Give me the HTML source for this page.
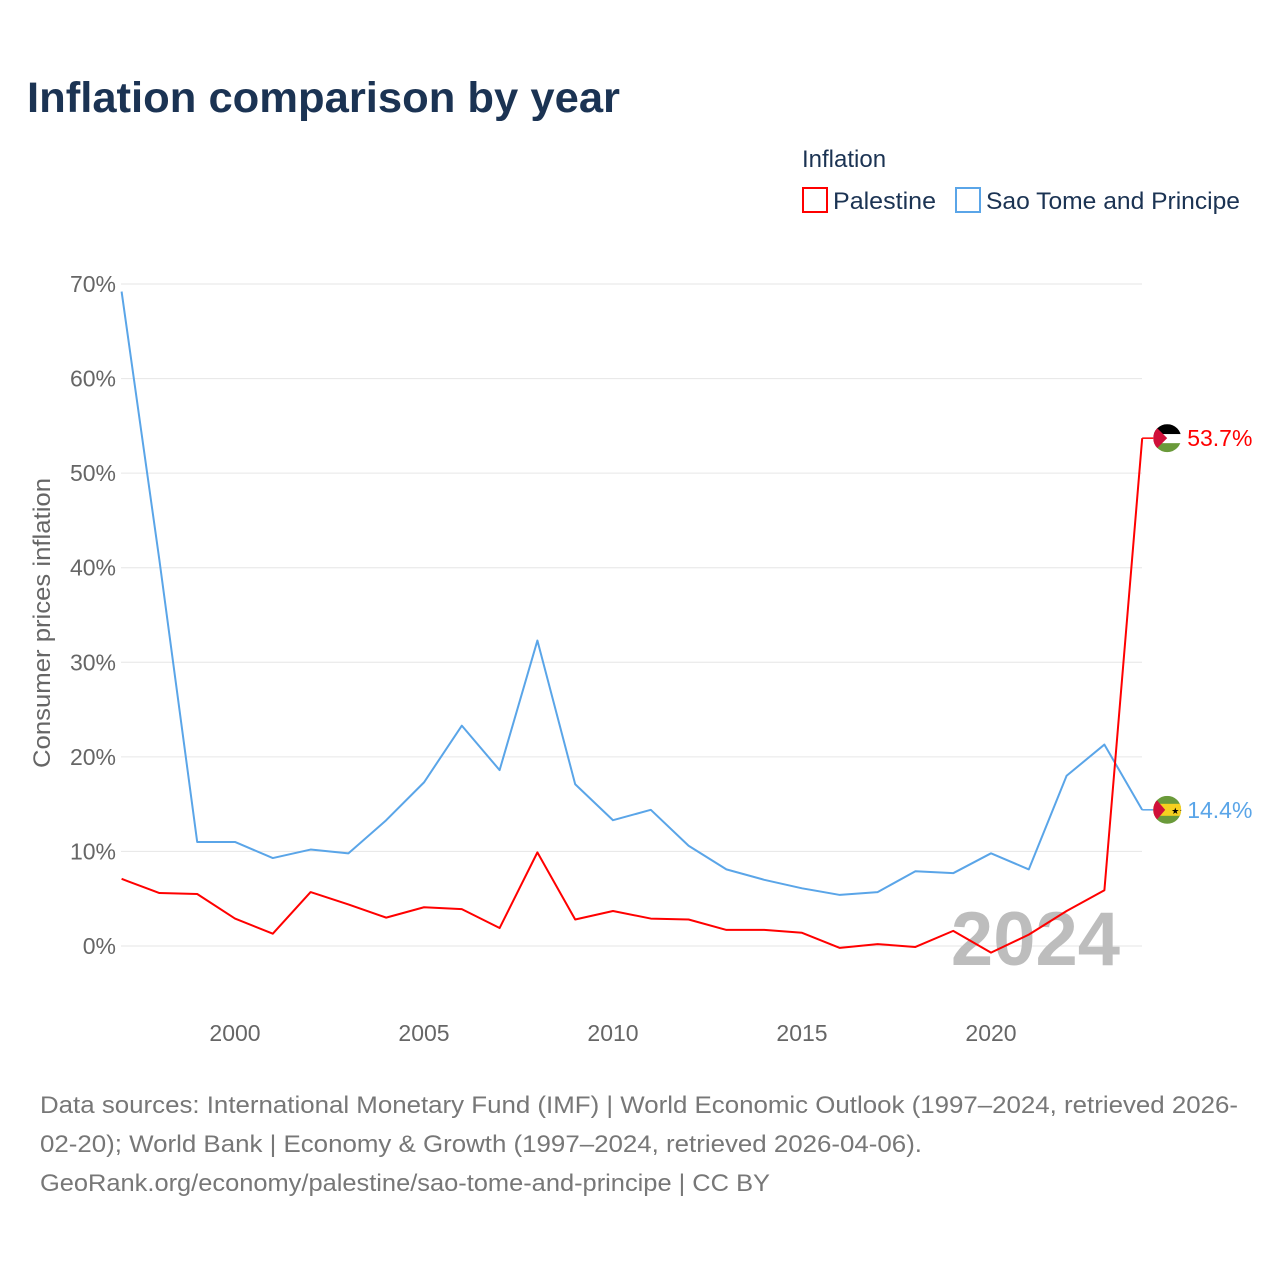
<!DOCTYPE html>
<html><head><meta charset="utf-8"><style>
body{margin:0;background:#fff;}
svg text{font-family:"Liberation Sans",sans-serif;}
</style></head><body>
<svg width="1280" height="1280" viewBox="0 0 1280 1280">
<text x="27" y="112" font-size="43" font-weight="bold" fill="#1b3353" textLength="593" lengthAdjust="spacingAndGlyphs">Inflation comparison by year</text>
<text x="802" y="167" font-size="24" fill="#1b3353">Inflation</text>
<g><rect x="803" y="188" width="24" height="24" fill="#fff" stroke="#ff0000" stroke-width="2"/><text x="833" y="209" font-size="24" fill="#1b3353" textLength="103" lengthAdjust="spacingAndGlyphs">Palestine</text></g>
<g><rect x="956" y="188" width="24" height="24" fill="#fff" stroke="#5aa5e8" stroke-width="2"/><text x="986" y="209" font-size="24" fill="#1b3353" textLength="254" lengthAdjust="spacingAndGlyphs">Sao Tome and Principe</text></g>
<g id="grid"></g>
<text x="0" y="0" transform="translate(50,623) rotate(-90)" text-anchor="middle" font-size="24" fill="#666" textLength="290" lengthAdjust="spacingAndGlyphs">Consumer prices inflation</text>
<text x="1120" y="965" text-anchor="end" font-size="76" font-weight="bold" fill="#bdbdbd">2024</text>
<g id="series"></g>
<text x="40" y="1113" font-size="24" fill="#777" textLength="1198" lengthAdjust="spacingAndGlyphs">Data sources: International Monetary Fund (IMF) | World Economic Outlook (1997–2024, retrieved 2026-</text>
<text x="40" y="1152" font-size="24" fill="#777" textLength="882" lengthAdjust="spacingAndGlyphs">02-20); World Bank | Economy &amp; Growth (1997–2024, retrieved 2026-04-06).</text>
<text x="40" y="1191" font-size="24" fill="#777" textLength="730" lengthAdjust="spacingAndGlyphs">GeoRank.org/economy/palestine/sao-tome-and-principe | CC BY</text>
</svg>
<script>
const years=[1997,1998,1999,2000,2001,2002,2003,2004,2005,2006,2007,2008,2009,2010,2011,2012,2013,2014,2015,2016,2017,2018,2019,2020,2021,2022,2023,2024];
const palestine=[7.1,5.6,5.5,2.9,1.3,5.7,4.4,3.0,4.1,3.9,1.9,9.9,2.8,3.7,2.9,2.8,1.7,1.7,1.4,-0.2,0.2,-0.1,1.6,-0.7,1.2,3.7,5.9,53.7];
const saoTome=[69.2,40.8,11.0,11.0,9.3,10.2,9.8,13.3,17.3,23.3,18.6,32.3,17.1,13.3,14.4,10.6,8.1,7.0,6.1,5.4,5.7,7.9,7.7,9.8,8.1,18.0,21.3,14.4];
const yTicks=[0,10,20,30,40,50,60,70];
const xTicks=[2000,2005,2010,2015,2020];
const NS="http://www.w3.org/2000/svg";
const xs=y=>121.6+(y-1997)*37.8;
const ys=v=>946-v*9.457;
function mk(t,a,p){const e=document.createElementNS(NS,t);for(const k in a)e.setAttribute(k,a[k]);p.appendChild(e);return e;}
const grid=document.getElementById('grid');
yTicks.forEach(v=>{
 const l=mk('line',{x1:121,x2:1142,y1:ys(v),y2:ys(v),stroke:'#e6e6e6','stroke-width':1},grid);
 
 
 const t=mk('text',{x:116,y:ys(v)+8,'text-anchor':'end','font-size':23,fill:'#666'},grid);
 t.textContent=v+'%';
 
 
});
xTicks.forEach(v=>{
 const t=mk('text',{x:xs(v),y:1041,'text-anchor':'middle','font-size':23,fill:'#666'},grid);
 t.textContent=v;
 
 
});
const g=document.getElementById('series');
function series(vals,color,name,label,flag){
 const pts=vals.map((v,i)=>xs(years[i])+','+ys(v)).join(' ');
 const pl=mk('polyline',{points:pts,fill:'none',stroke:color,'stroke-width':2,'stroke-linejoin':'round'},g);
 
 
 const last=vals[vals.length-1],lx=xs(years[years.length-1]),ly=ys(last);
 mk('line',{x1:lx,x2:lx+12,y1:ly,y2:ly,stroke:color,'stroke-width':1.5},g);
 const fg=mk('g',{},g);
 
 
 const cx=lx+25;
 const clipId='c'+name;
 const cp=mk('clipPath',{id:clipId},fg);mk('circle',{cx:cx,cy:ly,r:14},cp);
 const inner=mk('g',{'clip-path':'url(#'+clipId+')'},fg);
 if(flag==='ps'){
  mk('rect',{x:cx-14,y:ly-14,width:28,height:10,fill:'#000'},inner);
  mk('rect',{x:cx-14,y:ly-4,width:28,height:9,fill:'#fff'},inner);
  mk('rect',{x:cx-14,y:ly+5,width:28,height:10,fill:'#6a9a3a'},inner);
  mk('polygon',{points:(cx-14)+','+(ly-14)+' '+(cx)+','+ly+' '+(cx-14)+','+(ly+14),fill:'#d0103a'},inner);
 } else {
  mk('rect',{x:cx-14,y:ly-14,width:28,height:28,fill:'#6a9a3a'},inner);
  mk('rect',{x:cx-14,y:ly-6,width:28,height:12,fill:'#f5d020'},inner);
  mk('polygon',{points:(cx-14)+','+(ly-14)+' '+(cx-2)+','+ly+' '+(cx-14)+','+(ly+14),fill:'#d0103a'},inner);
  mk('text',{x:cx+4,y:ly+4,'font-size':9,fill:'#000'},inner).textContent='★★';
 }
 const t=mk('text',{x:cx+20,y:ly+8,'font-size':23,fill:color},g);
 t.textContent=label;
 
 
}
series(saoTome,'#5aa5e8','sao-tome',saoTome[saoTome.length-1]+'%','st');
series(palestine,'#ff0000','palestine',palestine[palestine.length-1]+'%','ps');
</script>
</body></html>
